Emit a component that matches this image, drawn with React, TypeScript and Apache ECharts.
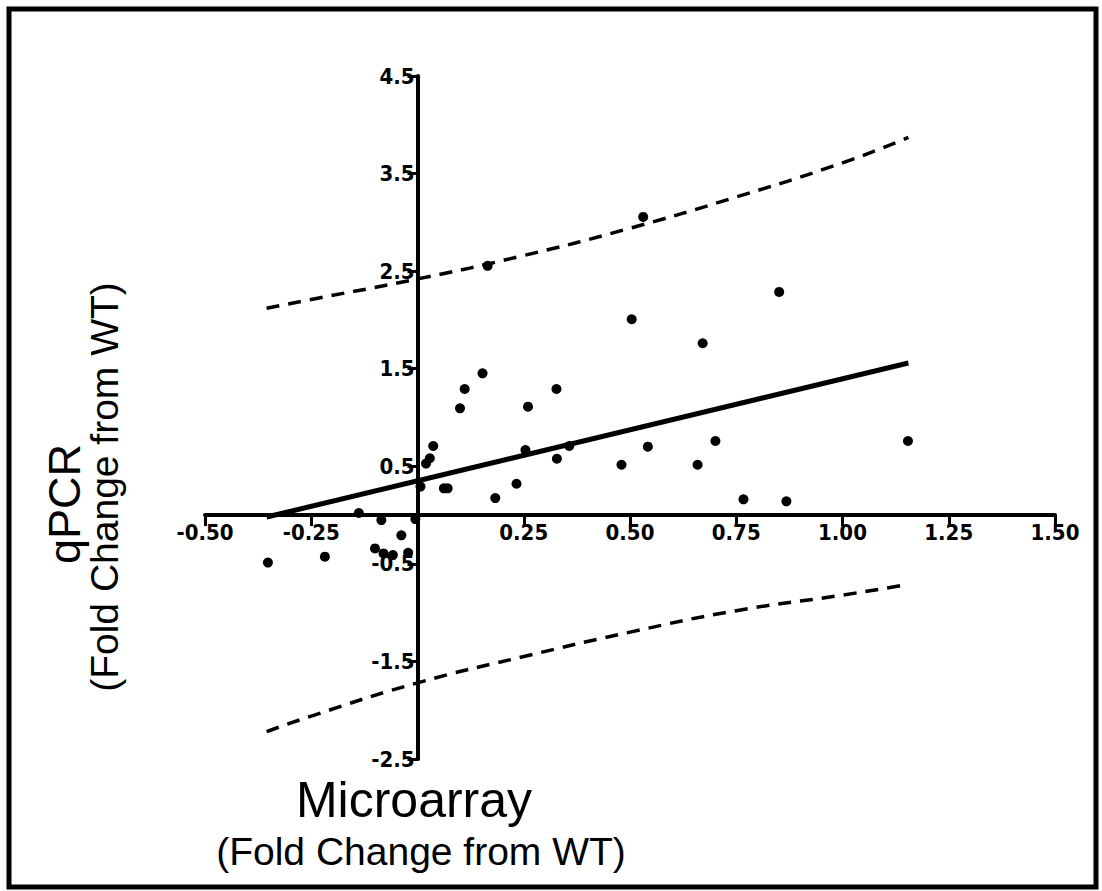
import React, { useEffect, useRef } from "react";
import * as echarts from "echarts";

// Scatter points (Microarray fold change, qPCR fold change)
const microarray = [
  -0.352, -0.218, -0.138, -0.085, -0.1, -0.08, -0.058, -0.038, -0.022, -0.005,
  0.007, 0.02, 0.029, 0.037, 0.062, 0.071, 0.1, 0.111, 0.153, 0.165,
  0.183, 0.233, 0.254, 0.26, 0.327, 0.328, 0.357, 0.48, 0.504, 0.531,
  0.542, 0.659, 0.671, 0.701, 0.767, 0.851, 0.868, 1.154,
];
const qpcr = [
  -0.487, -0.426, 0.021, -0.051, -0.342, -0.393, -0.41, -0.208, -0.387, -0.041,
  0.292, 0.528, 0.582, 0.708, 0.274, 0.274, 1.094, 1.292, 1.453, 2.554,
  0.174, 0.321, 0.667, 1.111, 1.292, 0.577, 0.708, 0.516, 2.007, 3.056,
  0.701, 0.516, 1.761, 0.759, 0.161, 2.287, 0.141, 0.759,
];

// Regression line end points
const fitX = [-0.355, 1.155];
const fitY = [-0.02, 1.559];

// Prediction band curves
const bandX = [-0.355, -0.25, 0, 0.25, 0.5, 0.75, 1.0, 1.155];
const upperY = [2.12, 2.21, 2.42, 2.66, 2.94, 3.26, 3.61, 3.87];
const lowerY = [-2.22, -2.06, -1.72, -1.45, -1.2, -0.98, -0.82, -0.71];

// Axis ranges
const xRange = [-0.5, 1.5];
const xStep = 0.25;
const yRange = [-2.5, 4.5];
const yStep = 1;

const yTitle = "qPCR";
const xTitle = "Microarray";
const subTitle = "(Fold Change from WT)";

const tickFont = "'Liberation Sans Narrow', 'DejaVu Sans Condensed', 'Arial Narrow', sans-serif";
const titleFont = "'Liberation Sans', Arial, Helvetica, sans-serif";

const gridLeft = 205;
const gridRight = 47;
const gridTop = 76;
const gridBottom = 132;
const W = 1102;
const H = 891;

export default function App() {
  const ref = useRef<HTMLDivElement>(null);
  useEffect(() => {
    if (!ref.current) return;
    const chart = echarts.init(ref.current, null, { renderer: "svg" });
    const pts = microarray.map((x, i) => [x, qpcr[i]]);
    const fit = fitX.map((x, i) => [x, fitY[i]]);
    const up = bandX.map((x, i) => [x, upperY[i]]);
    const lo = bandX.map((x, i) => [x, lowerY[i]]);

    // distance of the zero lines from the grid edges, via the scales
    const plotW = W - gridLeft - gridRight;
    const plotH = H - gridTop - gridBottom;
    const zeroXOffset = ((0 - xRange[0]) / (xRange[1] - xRange[0])) * plotW;
    const zeroYOffset = ((0 - yRange[0]) / (yRange[1] - yRange[0])) * plotH;

    chart.setOption({
      animation: false,
      backgroundColor: "#ffffff",
      grid: { left: gridLeft, right: gridRight, top: gridTop, bottom: gridBottom, containLabel: false },
      xAxis: {
        type: "value",
        position: "bottom",
        min: xRange[0],
        max: xRange[1],
        interval: xStep,
        offset: -zeroYOffset,
        splitLine: { show: false },
        axisLine: { onZero: false, lineStyle: { color: "#000", width: 4 } },
        axisTick: { show: true, inside: false, length: 11, lineStyle: { color: "#000", width: 3 } },
        axisLabel: {
          color: "#000",
          fontWeight: "bold",
          fontSize: 22,
          fontFamily: tickFont,
          margin: 6,
          formatter: (v: number) => (Math.abs(v) < 1e-9 ? "" : v.toFixed(2)),
        },
      },
      yAxis: {
        type: "value",
        position: "left",
        min: yRange[0],
        max: yRange[1],
        interval: yStep,
        offset: -zeroXOffset,
        splitLine: { show: false },
        axisLine: { onZero: false, lineStyle: { color: "#000", width: 4 } },
        axisTick: { show: true, inside: false, length: 10, lineStyle: { color: "#000", width: 3 } },
        axisLabel: {
          color: "#000",
          fontWeight: "bold",
          fontSize: 22,
          fontFamily: tickFont,
          margin: 3,
          formatter: (v: number) => v.toFixed(1),
        },
      },
      series: [
        {
          type: "line",
          data: up,
          smooth: true,
          symbol: "none",
          lineStyle: { color: "#000", width: 3.5, type: [13, 9] },
          z: 2,
        },
        {
          type: "line",
          data: lo,
          smooth: true,
          symbol: "none",
          lineStyle: { color: "#000", width: 3.5, type: [13, 9] },
          z: 2,
        },
        {
          type: "line",
          data: fit,
          symbol: "none",
          lineStyle: { color: "#000", width: 5 },
          z: 3,
        },
        {
          type: "scatter",
          data: pts,
          symbol: "circle",
          symbolSize: 10,
          itemStyle: { color: "#000", opacity: 1 },
          z: 4,
        },
      ],
      graphic: [
        {
          type: "rect",
          shape: { x: 9, y: 9, width: 1087, height: 878 },
          style: { fill: "none", stroke: "#000", lineWidth: 5 },
          z: 0,
        },
        {
          type: "text",
          x: 64,
          y: 504,
          rotation: Math.PI / 2,
          style: {
            text: yTitle,
            font: `45px ${titleFont}`,
            fill: "#000",
            align: "center",
            verticalAlign: "middle",
          },
        },
        {
          type: "text",
          x: 104,
          y: 487,
          rotation: Math.PI / 2,
          style: {
            text: subTitle,
            font: `39px ${titleFont}`,
            fill: "#000",
            align: "center",
            verticalAlign: "middle",
          },
        },
        {
          type: "text",
          x: 414,
          y: 800,
          style: {
            text: xTitle,
            font: `50px ${titleFont}`,
            fill: "#000",
            align: "center",
            verticalAlign: "middle",
          },
        },
        {
          type: "text",
          x: 421,
          y: 851,
          style: {
            text: subTitle,
            font: `39px ${titleFont}`,
            fill: "#000",
            align: "center",
            verticalAlign: "middle",
          },
        },
      ],
    });
    return () => chart.dispose();
  }, []);
  return (
    <div
      ref={ref}
      style={{ position: "absolute", left: 0, top: 0, width: W, height: H, background: "#fff" }}
    />
  );
}
